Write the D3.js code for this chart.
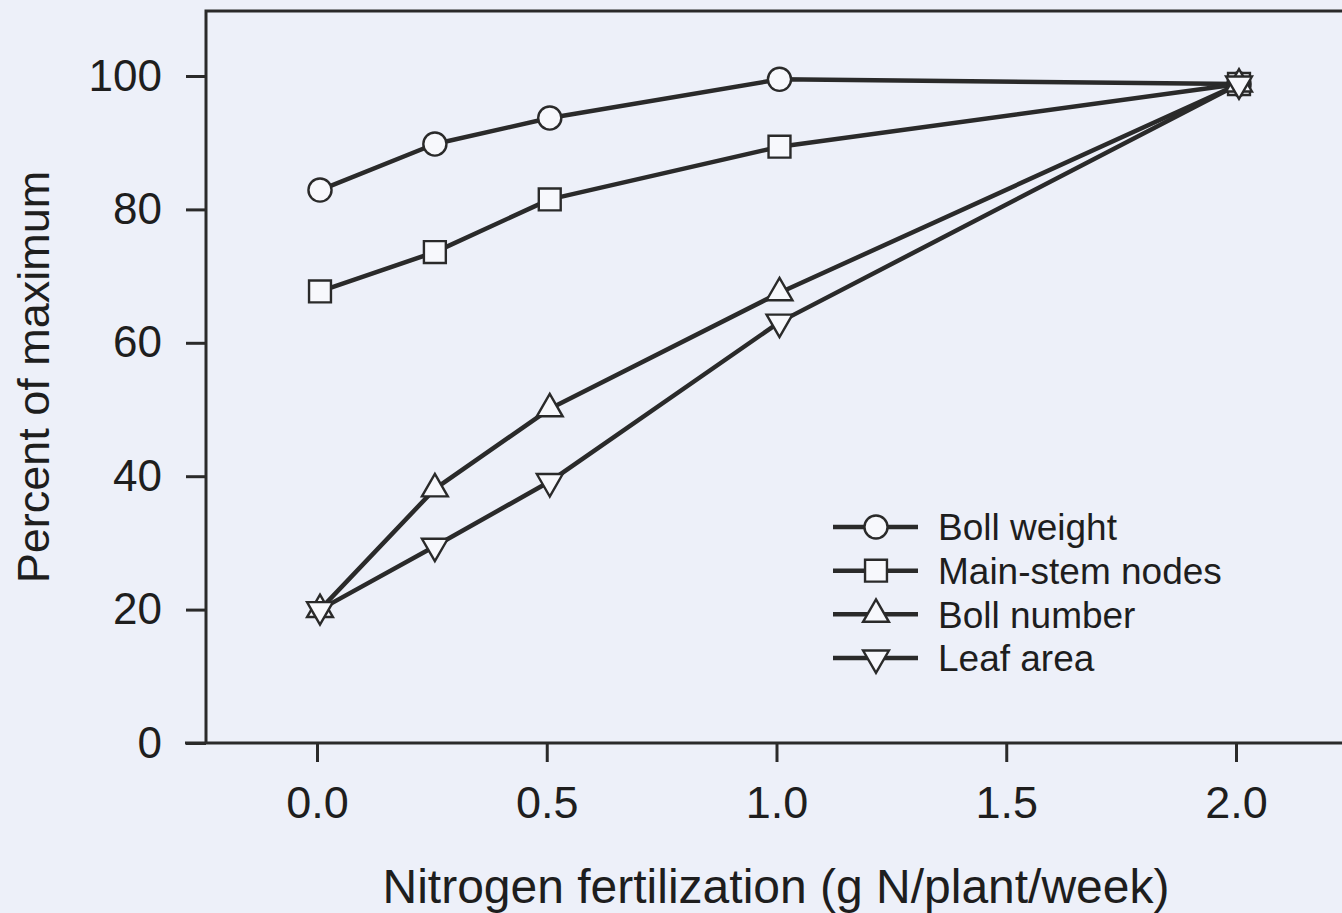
<!DOCTYPE html>
<html>
<head>
<meta charset="utf-8">
<script src="https://cdn.jsdelivr.net/npm/d3@7"></script>
<style>
  html, body { margin: 0; padding: 0; background: #edf0f9; }
  svg { display: block; font-family: "Liberation Sans", Arial, Helvetica, sans-serif; }
</style>
</head>
<body>
<svg id="chart" width="1342" height="913"></svg>
<script>
// Nitrogen rate (g N/plant/week)
const nitrogen = [0, 0.25, 0.5, 1.0, 2.0];
// Responses as percent of maximum
const bollWeight     = [82.9, 89.8, 93.7, 99.5, 98.8];
const mainStemNodes  = [67.7, 73.6, 81.5, 89.4, 98.8];
const bollNumber     = [20.0, 38.1, 50.1, 67.5, 98.8];
const leafArea       = [20.0, 29.5, 39.2, 63.1, 98.8];

const seriesNames = ["Boll weight", "Main-stem nodes", "Boll number", "Leaf area"];
const seriesValues = [bollWeight, mainStemNodes, bollNumber, leafArea];

const xTicks = [0, 0.5, 1.0, 1.5, 2.0];
const yTicks = [0, 20, 40, 60, 80, 100];

const ink = "#2a2a2a";
const markerFill = "#f7f8fc";

const svg = d3.select("#chart");

const x = d3.scaleLinear().domain([0, 2]).range([320, 1239]);
const y = d3.scaleLinear().domain([0, 100]).range([743, 76]);

const frameLeft = 206, frameTop = 11, frameRight = 1342;

// Frame: left and top borders
svg.append("path")
  .attr("d", `M${frameLeft},${y(0)} V${frameTop} H${frameRight}`)
  .attr("fill", "none").attr("stroke", ink).attr("stroke-width", 3);

// y axis ticks and labels
const yAxis = d3.axisLeft(y).tickValues(yTicks).tickSize(20).tickPadding(24).tickFormat(d3.format("d"));
const gy = svg.append("g").attr("transform", `translate(${frameLeft},0)`).call(yAxis);
gy.select(".domain").remove();
gy.selectAll(".tick line").attr("stroke", ink).attr("stroke-width", 3);
gy.selectAll(".tick text").attr("fill", "#1e1e1e").attr("font-size", 44).attr("font-family", "Liberation Sans, Arial, sans-serif");

// x axis line (extends to the left past the frame)
svg.append("line")
  .attr("x1", 185).attr("x2", frameRight).attr("y1", y(0)).attr("y2", y(0))
  .attr("stroke", ink).attr("stroke-width", 3);

const xAxis = d3.axisBottom(x).tickValues(xTicks).tickSize(19).tickPadding(24).tickFormat(d3.format(".1f"));
const gx = svg.append("g").attr("transform", `translate(-3,${y(0)})`).call(xAxis);
gx.select(".domain").remove();
gx.selectAll(".tick line").attr("stroke", ink).attr("stroke-width", 3);
gx.selectAll(".tick text").attr("fill", "#1e1e1e").attr("font-size", 45).attr("font-family", "Liberation Sans, Arial, sans-serif");

// Axis titles
svg.append("text")
  .attr("transform", "translate(49,377) rotate(-90)")
  .attr("text-anchor", "middle")
  .attr("font-size", 45).attr("fill", "#1e1e1e")
  .text("Percent of maximum");

svg.append("text")
  .attr("x", 776).attr("y", 903)
  .attr("text-anchor", "middle")
  .attr("font-size", 48).attr("fill", "#1e1e1e")
  .text("Nitrogen fertilization (g N/plant/week)");

// Marker shapes per series
const symbols = [
  { type: d3.symbolCircle, size: 420, rotate: 0 },
  { type: d3.symbolSquare, size: 480, rotate: 0 },
  { type: d3.symbolTriangle, size: 290, rotate: 0 },
  { type: d3.symbolTriangle, size: 290, rotate: 180 }
];

const line = d3.line().x(d => x(d[0])).y(d => y(d[1]));

// Lines first, then markers on top
seriesValues.forEach((vals, i) => {
  const pts = nitrogen.map((n, j) => [n, vals[j]]);
  svg.append("path")
    .attr("d", line(pts))
    .attr("fill", "none")
    .attr("stroke", ink)
    .attr("stroke-width", 4.5)
    .attr("stroke-linejoin", "round");
});

seriesValues.forEach((vals, i) => {
  const pts = nitrogen.map((n, j) => [n, vals[j]]);
  const s = symbols[i];
  svg.append("g").selectAll("path")
    .data(pts)
    .join("path")
    .attr("transform", d => `translate(${x(d[0])},${y(d[1])}) rotate(${s.rotate})`)
    .attr("d", d3.symbol().type(s.type).size(s.size))
    .attr("fill", markerFill)
    .attr("stroke", ink)
    .attr("stroke-width", 2.4);
});

// Legend
const legend = svg.append("g");
const legendY = d3.scalePoint().domain(seriesNames).range([527, 658]);
seriesNames.forEach((name, i) => {
  const cy = legendY(name);
  const s = symbols[i];
  legend.append("line")
    .attr("x1", 833).attr("x2", 918).attr("y1", cy).attr("y2", cy)
    .attr("stroke", ink).attr("stroke-width", 4.5);
  legend.append("path")
    .attr("transform", `translate(876,${cy}) rotate(${s.rotate})`)
    .attr("d", d3.symbol().type(s.type).size(s.size))
    .attr("fill", markerFill)
    .attr("stroke", ink)
    .attr("stroke-width", 2.4);
  legend.append("text")
    .attr("x", 938).attr("y", cy)
    .attr("dy", "0.36em")
    .attr("font-size", 37).attr("fill", "#1e1e1e")
    .text(name);
});
</script>
</body>
</html>
